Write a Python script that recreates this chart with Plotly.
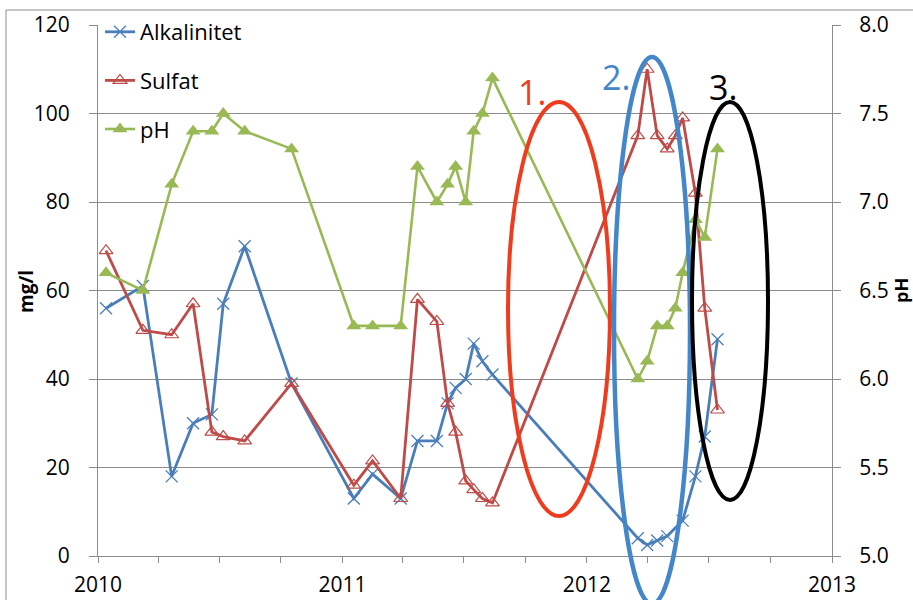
import plotly.graph_objects as go

# ---------------- data ----------------
dates = [
    "2010-01-13", "2010-03-09", "2010-04-21", "2010-05-23", "2010-06-20",
    "2010-07-07", "2010-08-08", "2010-10-17", "2011-01-18", "2011-02-15",
    "2011-03-29", "2011-04-23", "2011-05-22", "2011-06-07", "2011-06-19",
    "2011-07-04", "2011-07-16", "2011-07-29", "2011-08-13", "2012-03-17",
    "2012-03-31", "2012-04-15", "2012-04-30", "2012-05-12", "2012-05-23",
    "2012-06-11", "2012-06-25", "2012-07-14",
]
alkalinitet = [56, 61, 18, 30, 32, 57, 70, 39, 13, 18.5, 13, 26, 26, 34.5,
               38, 40, 48, 44, 41, 4, 2.5, 3.5, 4.5, None, 8, 18, 27, 49]
sulfat = [69, 51, 50, 57, 28, 27, 26, 39, 16, 21.5, 13, 58, 53, 34.5, 28,
          17, 15, 13, 12, 95, 110, 95, 92, 95, 99, 82, 56, 33]
ph = [6.6, 6.5, 7.1, 7.4, 7.4, 7.5, 7.4, 7.3, 6.3, 6.3, 6.3, 7.2, 7.0, 7.1,
      7.2, 7.0, 7.4, 7.5, 7.7, 6.0, 6.1, 6.3, 6.3, 6.4, 6.6, 6.9, 6.8, 7.3]

y1_ticks = [0, 20, 40, 60, 80, 100, 120]
y2_ticks = [5.0, 5.5, 6.0, 6.5, 7.0, 7.5, 8.0]
x_ticks = ["2010-01-01", "2011-01-01", "2012-01-01", "2013-01-01"]
x_labels = ["2010", "2011", "2012", "2013"]

# ---------------- layout geometry ----------------
W, H = 913, 600
L, R, T, B = 98, 832, 25, 556


def px(x):
    return (x - L) / (R - L)


def py(y):
    return (B - y) / (B - T)


FONT = "Open Sans"
BLUE = "#4A7EBB"
RED = "#BE4B48"
GREEN = "#98B954"
GRID = "#8C8C8C"

fig = go.Figure()
fig.add_trace(go.Scatter(
    x=dates, y=alkalinitet, name="Alkalinitet", mode="lines+markers",
    connectgaps=True, legendgroup="a",
    line=dict(color=BLUE, width=2.8),
    marker=dict(symbol="x-thin", size=12, line=dict(color=BLUE, width=1.3)),
))
fig.add_trace(go.Scatter(
    x=dates, y=sulfat, name="Sulfat", mode="lines+markers",
    connectgaps=True, legendgroup="b",
    line=dict(color=RED, width=2.8),
    marker=dict(symbol="triangle-up-open", size=12, color=RED,
                line=dict(color=RED, width=1.2)),
))
fig.add_trace(go.Scatter(
    x=dates, y=ph, name="pH", mode="lines+markers", yaxis="y2",
    connectgaps=True, legendgroup="c",
    line=dict(color=GREEN, width=2.6),
    marker=dict(symbol="triangle-up", size=13, color=GREEN),
))

shapes = [
    # outer chart border
    dict(type="rect", xref="paper", yref="paper",
         x0=px(6), x1=px(930), y0=py(10), y1=py(620),
         line=dict(color=GRID, width=1), layer="below"),
    # ellipses
    dict(type="circle", xref="paper", yref="paper",
         x0=px(508), x1=px(610), y0=py(516), y1=py(102),
         line=dict(color="#F03C1E", width=4)),
    dict(type="circle", xref="paper", yref="paper",
         x0=px(614), x1=px(690), y0=py(604), y1=py(57),
         line=dict(color="#4387CA", width=4.5)),
    dict(type="circle", xref="paper", yref="paper",
         x0=px(692), x1=px(768), y0=py(500), y1=py(102),
         line=dict(color="#000000", width=4)),
]

annotations = [
    dict(text="1.", x=px(532), y=py(92), xref="paper", yref="paper",
         showarrow=False, xanchor="center", yanchor="middle",
         font=dict(family=FONT, size=34, color="#F03C1E")),
    dict(text="2.", x=px(616), y=py(77), xref="paper", yref="paper",
         showarrow=False, xanchor="center", yanchor="middle",
         font=dict(family=FONT, size=34, color="#4387CA")),
    dict(text="3.", x=px(723), y=py(87), xref="paper", yref="paper",
         showarrow=False, xanchor="center", yanchor="middle",
         font=dict(family=FONT, size=34, color="#000000")),
    dict(text="<b>mg/l</b>", x=px(26), y=py(292), xref="paper", yref="paper",
         showarrow=False, textangle=-90, xanchor="center", yanchor="middle",
         font=dict(family=FONT, size=19, color="#000000")),
    dict(text="<b>pH</b>", x=px(901), y=py(290), xref="paper", yref="paper",
         showarrow=False, textangle=-90, xanchor="center", yanchor="middle",
         font=dict(family=FONT, size=18, color="#000000")),
]

fig.update_layout(
    width=W, height=H,
    margin=dict(l=L, r=W - R, t=T, b=H - B, pad=0, autoexpand=False),
    paper_bgcolor="white", plot_bgcolor="white",
    font=dict(family=FONT, size=21, color="#000000"),
    showlegend=True,
    legend=dict(x=px(100), y=py(11), xanchor="left", yanchor="top",
                bgcolor="rgba(255,255,255,0)", borderwidth=0,
                font=dict(family=FONT, size=22, color="#000000"),
                tracegroupgap=17, itemwidth=30),
    xaxis=dict(
        type="date", range=["2010-01-01", "2013-01-01"],
        tickmode="array", tickvals=x_ticks, ticktext=x_labels,
        ticks="outside", ticklen=6, tickcolor=GRID, tickwidth=1,
        minor=dict(dtick="M3", tick0="2010-01-01", ticks="outside",
                   ticklen=6, tickcolor=GRID, showgrid=False),
        showline=True, linecolor=GRID, linewidth=1,
        showgrid=False, zeroline=False, automargin=False,
        tickfont=dict(family=FONT, size=21), ticklabelstandoff=4,
    ),
    yaxis=dict(
        range=[0, 120], tickmode="array", tickvals=y1_ticks,
        ticks="outside", ticklen=8, tickcolor=GRID,
        showline=True, linecolor=GRID, linewidth=1, automargin=False,
        showgrid=True, gridcolor=GRID, gridwidth=1, zeroline=False,
        tickfont=dict(family=FONT, size=21), ticklabelstandoff=15,
    ),
    yaxis2=dict(
        range=[5, 8], overlaying="y", side="right", tickmode="array",
        tickvals=y2_ticks, ticktext=[f"{v:.1f}" for v in y2_ticks],
        ticks="outside", ticklen=8, tickcolor=GRID, automargin=False,
        showline=True, linecolor=GRID, linewidth=1,
        showgrid=False, zeroline=False,
        tickfont=dict(family=FONT, size=21), ticklabelstandoff=14,
    ),
    shapes=shapes,
    annotations=annotations,
)

fig.write_html("out.html")
